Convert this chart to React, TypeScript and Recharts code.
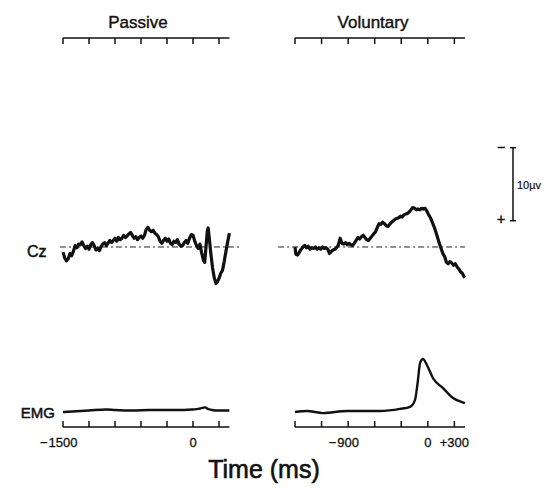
import React from "react";
import { LineChart, Line, XAxis, YAxis, ReferenceLine } from "recharts";

// ── Data ──────────────────────────────────────────────────
// time in ms relative to movement onset, Cz in µV (negative drawn upward), EMG in arbitrary units

const TIME_TICKS = [-1500, -1200, -900, -600, -300, 0, 300];
const TIME_DOMAIN: [number, number] = [-1500, 420];

const PASSIVE_TICK_LABELS: Record<string, string> = { "-1500": "-1500", "0": "0" };
const VOLUNTARY_TICK_LABELS: Record<string, string> = { "-900": "-900", "0": "0", "300": "+300" };

const passiveCz: [number, number][] = [
  [-1500, 0.7], [-1480, 1.5], [-1460, 1.9], [-1440, 1.6], [-1420, 0.9], [-1400, 1.2],
  [-1380, 0.6], [-1360, -0.2], [-1340, 0.1], [-1320, -0.4], [-1300, -0.3], [-1280, -0.7],
  [-1260, -0.2], [-1240, 0.2], [-1220, -0.1], [-1200, 0.3], [-1180, -0.3], [-1160, -0.6],
  [-1140, -0.2], [-1120, 0.4], [-1100, 0.2], [-1080, 0.5], [-1060, -0.1], [-1040, -0.4],
  [-1020, -0.6], [-1000, -0.2], [-980, -0.5], [-960, -0.9], [-940, -0.6], [-920, -0.9],
  [-900, -1.2], [-880, -0.8], [-860, -1.3], [-840, -1.0], [-820, -1.2], [-800, -1.6],
  [-780, -1.3], [-760, -1.5], [-740, -1.8], [-720, -2.0], [-700, -1.6], [-680, -1.2],
  [-660, -1.4], [-640, -1.0], [-620, -1.3], [-600, -1.5], [-580, -1.2], [-560, -1.6],
  [-540, -2.4], [-520, -2.7], [-500, -2.3], [-480, -2.1], [-460, -2.3], [-440, -1.9],
  [-420, -1.7], [-400, -1.4], [-380, -0.8], [-360, -0.5], [-340, -0.9], [-320, -1.2],
  [-300, -0.8], [-280, -1.1], [-260, -0.5], [-240, -0.3], [-220, -0.8], [-200, -0.6],
  [-180, -1.0], [-160, -0.4], [-140, -0.1], [-120, -0.2], [-100, -0.6], [-80, -0.9],
  [-60, -0.5], [-40, -1.2], [-20, -1.7], [0, -1.6], [20, -0.8], [40, -0.2], [60, 0.2],
  [80, -0.4], [100, 0.8], [120, 1.8], [135, 2.1], [150, 0.0], [165, -2.2], [175, -2.6],
  [190, -1.0], [205, 0.8], [225, 2.8], [245, 4.2], [265, 5.0], [280, 4.8], [300, 4.3],
  [320, 3.6], [340, 3.2], [360, 2.0], [380, 0.6], [400, -0.7], [420, -1.9],
];

const voluntaryCz: [number, number][] = [
  [-1500, 0.0], [-1490, 1.0], [-1470, 1.1], [-1450, 0.7], [-1430, 0.3], [-1410, 0.0],
  [-1390, -0.2], [-1370, 0.1], [-1350, -0.1], [-1330, 0.3], [-1310, 0.1], [-1290, 0.2],
  [-1270, 0.0], [-1250, 0.3], [-1230, 0.1], [-1210, 0.3], [-1190, 0.0], [-1170, 0.2],
  [-1150, 0.1], [-1130, 0.3], [-1110, 0.9], [-1090, 0.6], [-1070, 0.4], [-1050, 0.3],
  [-1030, 0.1], [-1010, -0.3], [-990, -1.2], [-970, -0.5], [-950, -0.4], [-930, -0.6],
  [-910, -0.3], [-890, -0.5], [-870, -0.3], [-850, -0.2], [-830, -0.5], [-810, -0.9],
  [-790, -1.3], [-770, -1.1], [-750, -1.4], [-730, -1.6], [-710, -1.3], [-690, -1.0],
  [-670, -0.9], [-650, -1.2], [-630, -1.5], [-610, -1.8], [-590, -2.1], [-570, -2.7],
  [-550, -3.2], [-530, -3.1], [-510, -3.4], [-490, -3.2], [-470, -2.9], [-450, -2.8],
  [-430, -3.1], [-410, -3.4], [-390, -3.6], [-370, -3.8], [-350, -3.9], [-330, -4.0],
  [-310, -4.2], [-290, -4.1], [-270, -4.4], [-250, -4.5], [-230, -4.6], [-210, -4.8],
  [-190, -5.1], [-170, -5.4], [-150, -5.3], [-130, -5.1], [-110, -5.2], [-90, -5.1],
  [-70, -5.3], [-50, -5.2], [-30, -5.3], [-10, -4.9], [10, -4.4], [30, -4.0], [50, -3.4],
  [70, -2.8], [90, -2.1], [110, -1.3], [130, -0.5], [150, 0.2], [170, 0.9], [190, 1.3],
  [210, 2.1], [230, 2.3], [250, 2.0], [270, 2.2], [290, 2.5], [310, 2.3], [330, 2.7],
  [350, 3.0], [370, 3.4], [390, 3.6], [405, 4.0], [420, 4.2],
];

const passiveEmg: [number, number][] = [
  [-1500, -0.02], [-1300, 0.0], [-1200, 0.01], [-1000, 0.03], [-900, 0.02], [-700, 0.01],
  [-500, 0.02], [-300, 0.02], [-100, 0.02], [0, 0.03], [60, 0.04], [110, 0.06],
  [140, 0.07], [170, 0.04], [220, 0.02], [300, 0.01], [420, 0.01],
];

const voluntaryEmg: [number, number][] = [
  [-1500, -0.02], [-1364, 0.0], [-1184, -0.04], [-913, 0.0], [-540, 0.0], [-314, 0.04],
  [-201, 0.08], [-145, 0.21], [-111, 0.6], [-88, 0.92], [-54, 1.0], [-9, 0.88],
  [59, 0.63], [172, 0.44], [285, 0.25], [386, 0.17], [420, 0.15],
];

// baseline extent and 10 µV calibration bar (in data units)
const PASSIVE_BASELINE: [number, number] = [-1535, 565];
const VOLUNTARY_BASELINE: [number, number] = [-1690, 420];
const CAL_TIME = 962;
const CAL_CAP: [number, number] = [928, 996];
const CAL_RANGE: [number, number] = [-13.6, -3.6];

// ── Layout ────────────────────────────────────────────────

const PLOT_TOP = 38;
const PLOT_BOTTOM = 427;
const CHART_H = 488;
const CZ_DOMAIN: [number, number] = [-28.63, 24.66];
const EMG_DOMAIN: [number, number] = [-0.3077, 7.173];
const INK = "#111";
const FONT = "'Liberation Sans', Arial, Helvetica, sans-serif";

const toPoints = (pairs: [number, number][]) => pairs.map(([t, v]) => ({ t, v }));

// ── Ticks ─────────────────────────────────────────────────

const renderTopTick = (props: any) => (
  <line
    key={props.index}
    x1={props.x}
    y1={PLOT_TOP}
    x2={props.x}
    y2={PLOT_TOP + 6}
    stroke={INK}
    strokeWidth={1.5}
  />
);

const makeBottomTick = (labels: Record<string, string>) => (props: any) => {
  const { x, payload } = props;
  const label = labels[String(payload.value)];
  const negative = label && label.startsWith("-");
  const digits = negative ? label.slice(1) : label;
  return (
    <g key={props.index}>
      <line x1={x} y1={PLOT_BOTTOM} x2={x} y2={PLOT_BOTTOM - 6} stroke={INK} strokeWidth={1.5} />
      {label && (
        <text x={x} y={447} textAnchor="middle" fontSize={13} fontFamily={FONT} fill={INK} stroke={INK} strokeWidth={0.3}>
          {digits}
        </text>
      )}
      {negative && (
        <text
          x={x - digits.length * 3.6 - 1}
          y={447}
          textAnchor="end"
          fontSize={13}
          fontFamily={FONT}
          fill={INK}
          stroke={INK}
          strokeWidth={0.3}
        >
          −
        </text>
      )}
    </g>
  );
};

// ── Panel ─────────────────────────────────────────────────

interface PanelProps {
  left: number;
  width: number;
  plotLeft: number;
  plotWidth: number;
  cz: [number, number][];
  emg: [number, number][];
  baseline: [number, number];
  labels: Record<string, string>;
  calibration?: boolean;
}

const Panel = ({ left, width, plotLeft, plotWidth, cz, emg, baseline, labels, calibration }: PanelProps) => {
  const margin = {
    top: PLOT_TOP - 10,
    bottom: CHART_H - PLOT_BOTTOM - 30,
    left: plotLeft - left,
    right: width - (plotLeft - left) - plotWidth,
  };
  return (
    <div style={{ position: "absolute", left, top: 0 }}>
      <LineChart width={width} height={CHART_H} margin={margin}>
        <XAxis
          xAxisId="top"
          orientation="top"
          type="number"
          dataKey="t"
          domain={TIME_DOMAIN}
          ticks={TIME_TICKS}
          interval={0}
          height={10}
          axisLine={{ stroke: INK, strokeWidth: 1.5 }}
          tickLine={false}
          tick={renderTopTick}
        />
        <XAxis
          xAxisId="bottom"
          orientation="bottom"
          type="number"
          dataKey="t"
          domain={TIME_DOMAIN}
          ticks={TIME_TICKS}
          interval={0}
          height={30}
          axisLine={{ stroke: INK, strokeWidth: 1.5 }}
          tickLine={false}
          tick={makeBottomTick(labels)}
        />
        <YAxis yAxisId="cz" hide reversed domain={CZ_DOMAIN} type="number" allowDataOverflow />
        <YAxis yAxisId="emg" hide domain={EMG_DOMAIN} type="number" allowDataOverflow />
        <ReferenceLine
          xAxisId="bottom"
          yAxisId="cz"
          segment={[{ x: baseline[0], y: 0 }, { x: baseline[1], y: 0 }]}
          stroke="#222"
          strokeWidth={1}
          strokeDasharray="6 3 2 3"
          ifOverflow="visible"
        />
        {calibration && (
          <ReferenceLine
            xAxisId="bottom"
            yAxisId="cz"
            segment={[{ x: CAL_TIME, y: CAL_RANGE[0] }, { x: CAL_TIME, y: CAL_RANGE[1] }]}
            stroke={INK}
            strokeWidth={1.5}
            ifOverflow="visible"
          />
        )}
        {calibration &&
          CAL_RANGE.map((y) => (
            <ReferenceLine
              key={y}
              xAxisId="bottom"
              yAxisId="cz"
              segment={[{ x: CAL_CAP[0], y }, { x: CAL_CAP[1], y }]}
              stroke={INK}
              strokeWidth={1.5}
              ifOverflow="visible"
            />
          ))}
        {/* Cz trace sits on the top time axis (same domain and width as the bottom one) */}
        <Line
          xAxisId="top"
          yAxisId="cz"
          data={toPoints(cz)}
          dataKey="v"
          type="linear"
          stroke={INK}
          strokeWidth={3.2}
          strokeLinejoin="round"
          dot={false}
          isAnimationActive={false}
        />
        <Line
          xAxisId="bottom"
          yAxisId="emg"
          data={toPoints(emg)}
          dataKey="v"
          type="monotone"
          stroke={INK}
          strokeWidth={2.4}
          dot={false}
          isAnimationActive={false}
        />
      </LineChart>
    </div>
  );
};

// ── App ───────────────────────────────────────────────────

export default function App() {
  const text = { fontFamily: FONT, fill: INK, stroke: INK };
  return (
    <div style={{ position: "absolute", left: 0, top: 0, width: 551, height: 488, background: "#fff" }}>
      <Panel
        left={0}
        width={275}
        plotLeft={63}
        plotWidth={166.4}
        cz={passiveCz}
        emg={passiveEmg}
        baseline={PASSIVE_BASELINE}
        labels={PASSIVE_TICK_LABELS}
      />
      <Panel
        left={275}
        width={276}
        plotLeft={295}
        plotWidth={170}
        cz={voluntaryCz}
        emg={voluntaryEmg}
        baseline={VOLUNTARY_BASELINE}
        labels={VOLUNTARY_TICK_LABELS}
        calibration
      />
      <svg
        width={551}
        height={488}
        style={{ position: "absolute", left: 0, top: 0, pointerEvents: "none" }}
      >
        <text x={138} y={28} textAnchor="middle" fontSize={17} strokeWidth={0.4} {...text}>Passive</text>
        <text x={373} y={28} textAnchor="middle" fontSize={17} strokeWidth={0.4} {...text}>Voluntary</text>
        <text x={27} y={257} fontSize={16} strokeWidth={0.5} {...text}>Cz</text>
        <text x={55} y={418} textAnchor="end" fontSize={15} strokeWidth={0.5} {...text}>EMG</text>
        <text x={264} y={478} textAnchor="middle" fontSize={25} strokeWidth={0.6} {...text}>Time (ms)</text>
        <text x={501} y={152} textAnchor="middle" fontSize={14} strokeWidth={0.5} {...text}>−</text>
        <text x={501} y={224} textAnchor="middle" fontSize={14} strokeWidth={0.5} {...text}>+</text>
        <text x={517} y={189} fontSize={11} strokeWidth={0.2} {...text}>10µv</text>
      </svg>
    </div>
  );
}
